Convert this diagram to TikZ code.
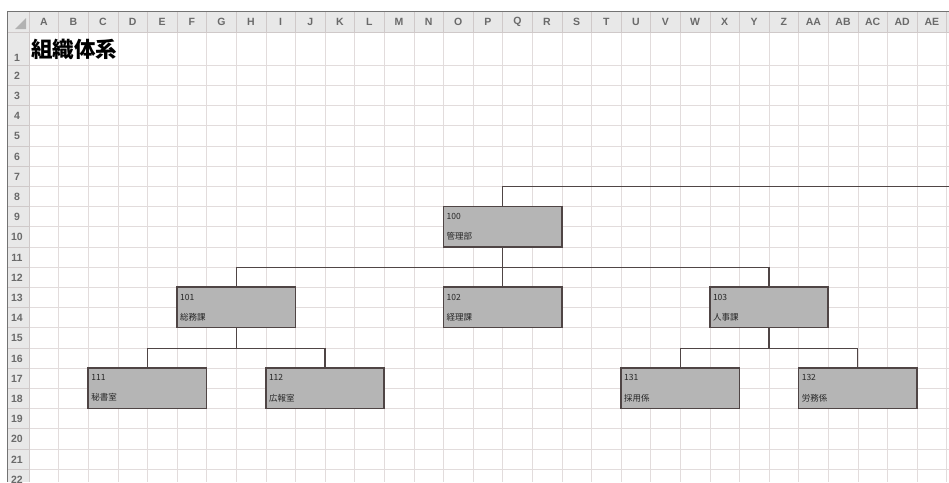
\documentclass[tikz,border=0pt]{standalone}
\usepackage{fontspec}
\usepackage{xcolor}
\usepackage{tikz}
\usetikzlibrary{calc}
\newfontfamily\jpfont{Noto Sans CJK JP}
\newfontfamily\hdfont{Liberation Sans}
\definecolor{gridln}{HTML}{E2DCDC}
\definecolor{hdrbg}{HTML}{E8E8E8}
\definecolor{hdrsep}{HTML}{CFC9C9}
\definecolor{hdrtx}{HTML}{6A6A6A}
\definecolor{boxfill}{HTML}{B5B5B5}
\definecolor{boxline}{HTML}{4F4545}

\begin{document}
\begin{tikzpicture}[x=1pt, y=-1pt,
  unit/.style={draw=boxline, line width=1.5pt, fill=boxfill, minimum width=118.4pt, minimum height=40.4pt, inner sep=0pt, text width=112pt, align=left, font=\jpfont\fontsize{8.5}{20.2}\selectfont, text=black!85},
  link/.style={draw=boxline, line width=1.3pt},
  colhd/.style={font=\hdfont\bfseries\fontsize{10.5}{12}\selectfont, text=hdrtx, inner sep=0pt},
  rowhd/.style={font=\hdfont\bfseries\fontsize{10.5}{12}\selectfont, text=hdrtx, inner sep=0pt}]
  \fill[white] (0,0) rectangle (949,482);
  \useasboundingbox (0,0) rectangle (949,482);
  % sheet headers
  \fill[hdrbg] (7,11) rectangle (949,32);
  \fill[hdrbg] (7,32) rectangle (29,482);
  \fill[black!30] (26,18) -- (26,29) -- (15,29) -- cycle;
  \foreach \k in {0,...,31}{
    \pgfmathsetmacro\xx{29+29.6*\k}
    \draw[gridln] (\xx,32) -- (\xx,482);
    \draw[hdrsep] (\xx,11) -- (\xx,32);
  }
  \foreach \r in {0,...,21}{
    \pgfmathsetmacro\yy{65+20.2*\r}
    \draw[gridln] (29,\yy) -- (949,\yy);
    \draw[hdrsep] (7,\yy) -- (29,\yy);
  }
  \draw[hdrsep] (7,32) -- (949,32);
  \draw[hdrsep] (29,11) -- (29,482);
  \draw[black!55] (7,482) -- (7,11) -- (949,11);
  \foreach \c [count=\n from 0] in {A,B,C,D,E,F,G,H,I,J,K,L,M,N,O,P,Q,R,S,T,U,V,W,X,Y,Z,AA,AB,AC,AD,AE}{
    \pgfmathsetmacro\xx{43.8+29.6*\n}
    \node[colhd] (h\c) at (\xx,21.5) {\c};
  }
  \node[rowhd] (r1) at (17,58) {1};
  \foreach \r in {2,...,22}{
    \pgfmathsetmacro\yy{75.6+20.2*(\r-2)}
    \node[rowhd] (r\r) at (17,\yy) {\r};
  }
  \node[anchor=west, inner sep=0pt, font=\jpfont\bfseries\fontsize{21.5}{24}\selectfont] (title) at (31,49) {組織体系};
  % org chart
  \node[unit] (u100) at (502.6,226.6) {100\\管理部};
  \node[unit] (u101) at (236.2,307.4) {101\\総務課};
  \node[unit] (u102) at (502.6,307.4) {102\\経理課};
  \node[unit] (u103) at (769,307.4) {103\\人事課};
  \node[unit] (u111) at (147.4,388.2) {111\\秘書室};
  \node[unit] (u112) at (325,388.2) {112\\広報室};
  \node[unit] (u131) at (680.2,388.2) {131\\採用係};
  \node[unit] (u132) at (857.8,388.2) {132\\労務係};
  \coordinate (topend) at (949,186.2);
  \coordinate (j1) at ($(u100.south)+(0,20.2)$);
  \coordinate (j2) at ($(u101.south)+(0,20.2)$);
  \coordinate (j3) at ($(u103.south)+(0,20.2)$);
  \draw[link] (u100.north) |- (topend);
  \draw[link] (u100.south) -- (u102.north);
  \draw[link] (u101.north) |- (j1) -| (u103.north);
  \draw[link] (u101.south) -- (j2);
  \draw[link] (u111.north) |- (j2) -| (u112.north);
  \draw[link] (u103.south) -- (j3);
  \draw[link] (u131.north) |- (j3) -| (u132.north);
\end{tikzpicture}
\end{document}
